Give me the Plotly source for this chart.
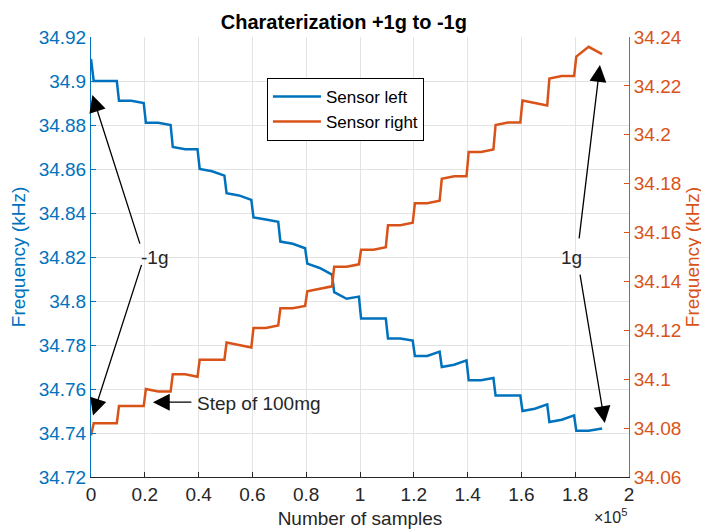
import plotly.graph_objects as go

# sample index where each reading was picked off the plot (3 points per 100mg step)
samples = [0, 1000, 5000, 9600,
           10400, 15000, 19600, 20400, 25000, 29600,
           30400, 35000, 39600, 40400, 45000, 49600,
           50400, 55000, 59600, 60400, 65000, 69600,
           70400, 75000, 79600, 80400, 85000, 89600,
           90400, 95000, 99600, 100400, 105000, 109600,
           110400, 115000, 119600, 120400, 125000, 129600,
           130400, 135000, 139600, 140400, 145000, 149600,
           150400, 155000, 159600, 160400, 165000, 169600,
           170400, 175000, 179600, 180400, 185000, 190000]

sensor_left = [34.910, 34.900, 34.900, 34.900,
               34.891, 34.891, 34.890, 34.881, 34.881, 34.880,
               34.870, 34.869, 34.869, 34.860, 34.859, 34.857,
               34.849, 34.848, 34.846, 34.838, 34.837, 34.836,
               34.827, 34.826, 34.824, 34.817, 34.815, 34.812,
               34.804, 34.801, 34.802, 34.792, 34.792, 34.792,
               34.783, 34.783, 34.782, 34.775, 34.775, 34.777,
               34.770, 34.771, 34.773, 34.764, 34.764, 34.765,
               34.757, 34.757, 34.757, 34.750, 34.751, 34.753,
               34.745, 34.746, 34.748, 34.741, 34.741, 34.742]

sensor_right = [34.077, 34.082, 34.082, 34.082,
                34.089, 34.089, 34.089, 34.096, 34.095, 34.095,
                34.102, 34.102, 34.101, 34.108, 34.108, 34.108,
                34.115, 34.114, 34.113, 34.121, 34.121, 34.122,
                34.129, 34.129, 34.130, 34.136, 34.137, 34.138,
                34.146, 34.146, 34.147, 34.153, 34.153, 34.154,
                34.163, 34.163, 34.164, 34.172, 34.172, 34.173,
                34.182, 34.183, 34.183, 34.193, 34.193, 34.194,
                34.204, 34.205, 34.205, 34.214, 34.213, 34.212,
                34.223, 34.224, 34.224, 34.232, 34.236, 34.233]

x_ticks = [0, 20000, 40000, 60000, 80000, 100000, 120000, 140000, 160000, 180000, 200000]
x_labels = ['0', '0.2', '0.4', '0.6', '0.8', '1', '1.2', '1.4', '1.6', '1.8', '2']
left_ticks = [34.72, 34.74, 34.76, 34.78, 34.80, 34.82, 34.84, 34.86, 34.88, 34.90, 34.92]
left_labels = ['34.72', '34.74', '34.76', '34.78', '34.8', '34.82', '34.84', '34.86', '34.88', '34.9', '34.92']
right_ticks = [34.06, 34.08, 34.10, 34.12, 34.14, 34.16, 34.18, 34.20, 34.22, 34.24]
right_labels = ['34.06', '34.08', '34.1', '34.12', '34.14', '34.16', '34.18', '34.2', '34.22', '34.24']

BLUE = '#0072BD'
ORANGE = '#D95319'
FONT = 'Liberation Sans, Arial, sans-serif'

fig = go.Figure()
fig.add_trace(go.Scatter(x=samples, y=sensor_left, mode='lines', name='Sensor left',
                         line=dict(color=BLUE, width=2.5)))
fig.add_trace(go.Scatter(x=samples, y=sensor_right, mode='lines', name='Sensor right',
                         line=dict(color=ORANGE, width=2.5), yaxis='y2'))

# arrows: tip in data coords, tail as pixel offset
arrow = dict(showarrow=True, arrowhead=2, arrowsize=2.6, arrowwidth=1.3, arrowcolor='black',
             text='', axref='pixel', ayref='pixel')
fig.add_annotation(x=500, y=34.8936, ax=48, ay=150, **arrow)
fig.add_annotation(x=740, y=34.748, ax=49, ay=-152, **arrow)
fig.add_annotation(x=189200, y=34.9073, ax=-21, ay=175, **arrow)
fig.add_annotation(x=191000, y=34.7445, ax=-25, ay=-150, **arrow)
fig.add_annotation(x=23000, y=34.754, ax=40, ay=0, **arrow)

txt = dict(showarrow=False, font=dict(family=FONT, size=19, color='#262626'))
fig.add_annotation(x=23700, y=34.820, text='-1g', **txt)
fig.add_annotation(x=178500, y=34.820, text='1g', **txt)
fig.add_annotation(x=38700, y=34.7535, text='Step of 100mg', xanchor='left', **txt)
fig.add_annotation(x=1, y=0, xref='paper', yref='paper', yshift=-27, xanchor='right', yanchor='top',
                   text='\u00d710<sup>5</sup>', showarrow=False,
                   font=dict(family=FONT, size=16, color='#262626'))

# page body has an 8px margin, so the figure is drawn 8px smaller and offset
fig.update_layout(
    width=701, height=521,
    margin=dict(l=83, r=80, t=29, b=52),
    paper_bgcolor='white', plot_bgcolor='white',
    font=dict(family=FONT, size=19, color='#262626'),
    title=dict(text='<b>Charaterization +1g to -1g</b>', x=0.47, xref='paper', xanchor='center',
               y=0.973, yanchor='middle', font=dict(family=FONT, size=20, color='black')),
    showlegend=True,
    legend=dict(x=0.327, y=0.907, xanchor='left', yanchor='top', bgcolor='white',
                bordercolor='black', borderwidth=1, font=dict(family=FONT, size=17, color='black'),
                itemwidth=48, tracegroupgap=0),
    xaxis=dict(range=[0, 200000], tickvals=x_ticks, ticktext=x_labels, automargin=False,
               title=dict(text='Number of samples', standoff=9, font=dict(size=19)),
               showgrid=True, gridcolor='#E3E3E3', zeroline=False,
               showline=True, linecolor='#262626', linewidth=1,
               ticks='inside', ticklen=5, tickcolor='#262626'),
    yaxis=dict(range=[34.72, 34.92], tickvals=left_ticks, ticktext=left_labels, automargin=False,
               title=dict(text='Frequency (kHz)', standoff=9, font=dict(color=BLUE, size=19)),
               tickfont=dict(color=BLUE, size=19),
               showgrid=True, gridcolor='#E3E3E3', zeroline=False,
               showline=True, linecolor=BLUE, linewidth=1,
               ticks='inside', ticklen=5, tickcolor=BLUE),
    yaxis2=dict(range=[34.06, 34.24], tickvals=right_ticks, ticktext=right_labels, automargin=False,
                overlaying='y', side='right',
                title=dict(text='Frequency (kHz)', standoff=4, font=dict(color=ORANGE, size=19)),
                tickfont=dict(color=ORANGE, size=19),
                showgrid=False, zeroline=False,
                showline=True, linecolor=ORANGE, linewidth=1,
                ticks='inside', ticklen=5, tickcolor=ORANGE),
)

fig.write_html("out.html")
